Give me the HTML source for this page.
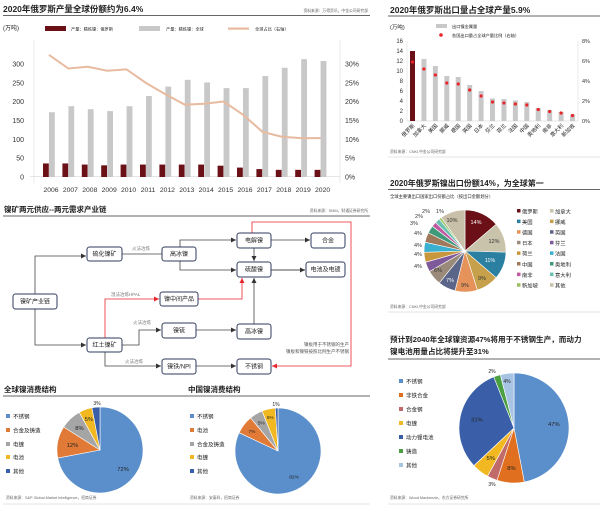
<!DOCTYPE html>
<html><head><meta charset="utf-8"><style>
html,body{margin:0;padding:0;background:#fff;width:600px;height:514px;overflow:hidden}
svg{display:block;font-family:"Liberation Sans","Noto Sans CJK SC",sans-serif}
</style></head><body>
<svg id="s" width="600" height="514" viewBox="0 0 600 514" xmlns="http://www.w3.org/2000/svg">
<defs>
<marker id="ak" markerWidth="6" markerHeight="6" refX="5" refY="3" orient="auto" markerUnits="userSpaceOnUse"><path d="M0,0.5 L5,3 L0,5.5z" fill="#333"/></marker>
<marker id="ar" markerWidth="6" markerHeight="6" refX="5" refY="3" orient="auto" markerUnits="userSpaceOnUse"><path d="M0,0.5 L5,3 L0,5.5z" fill="#e8262b"/></marker>
</defs>
<g id="g"></g>
</svg>
<script>
var G=document.getElementById('g'),NS='http://www.w3.org/2000/svg';
function el(t,a,txt){var e=document.createElementNS(NS,t);for(var k in a)e.setAttribute(k,a[k]);if(txt!==undefined)e.textContent=txt;G.appendChild(e);return e;}
function tx(x,y,s,sz,o){o=o||{};var a={x:x,y:y,'font-size':sz,fill:o.fill||'#222'};if(o.b)a['font-weight']='bold';if(o.a)a['text-anchor']=o.a;if(o.tr)a.transform=o.tr;return el('text',a,s);}
function ln(x1,y1,x2,y2,c,w,m){var a={x1:x1,y1:y1,x2:x2,y2:y2,stroke:c,'stroke-width':w||1};if(m)a['marker-end']='url(#'+m+')';return el('line',a);}
function pl(pts,c,w,m){var a={points:pts,fill:'none',stroke:c,'stroke-width':w||1};if(m)a['marker-end']='url(#'+m+')';return el('polyline',a);}
function rc(x,y,w,h,f){return el('rect',{x:x,y:y,width:w,height:h,fill:f});}
function pie(cx,cy,r,v,c,labs,lr,lc,fs){var t=0;v.forEach(function(x){t+=x});var a=-Math.PI/2;
 v.forEach(function(x,i){var b=a+x/t*2*Math.PI;var x1=cx+r*Math.cos(a),y1=cy+r*Math.sin(a),x2=cx+r*Math.cos(b),y2=cy+r*Math.sin(b);
 el('path',{d:'M'+cx+','+cy+' L'+x1+','+y1+' A'+r+','+r+' 0 '+((b-a)>Math.PI?1:0)+' 1 '+x2+','+y2+'Z',fill:c[i],stroke:'#fff','stroke-width':0.6});
 if(labs&&labs[i]){var m=(a+b)/2,rr=lr[i]||r*0.7;tx(cx+rr*Math.cos(m),cy+rr*Math.sin(m)+2,labs[i],fs||5.5,{a:'middle',fill:lc[i]||'#222'});}
 a=b;});}

/* Panel 1 */
tx(3,12,'2020年俄罗斯产量全球份额约为6.4%',8.5,{b:1});
tx(368,12,'资料来源：万得资讯，中金公司研究部',3.8,{a:'end',fill:'#666'});
ln(3,15.5,370,15.5,'#333',0.8);
tx(3,30,'(万吨)',6);
rc(45,26,21,5,'#6b1016');tx(71,30.5,'产量：精炼镍：俄罗斯',4.2);
rc(139,26,21,5,'#c8c8c8');tx(166,30.5,'产量：精炼镍：全球',4.2);
rc(228,27.5,21,2.2,'#e8bba0');tx(255,30.5,'全球占比（右轴）',4.2);
ln(34,40,34,183,'#ddd',0.6);ln(340,40,340,183,'#ddd',0.6);
ln(30,176.5,340,176.5,'#ccc',0.6);
for(var i=0;i<=6;i++){var y=177-i*18.83;tx(24,y+2.5,String(i*50),7,{a:'end',fill:'#333'});tx(345,y+2.5,(i*5)+'%',7,{fill:'#333'});}
var gv=[172,188,180,175,188,215,240,258,251,236,236,268,290,313,308],dv=[36,36,33,31,33,33,33,33,33,30,25,21,19,19,19],lv=[27,24,24.4,23.5,23.8,20.8,18.3,16,16.2,16.7,13.8,10,8.9,8.6,8.6];
var pts=[];
for(var i=0;i<15;i++){var x0=43+i*19.4;rc(x0,177-dv[i]*0.3766,5.8,dv[i]*0.3766,'#6b1016');rc(x0+6,177-gv[i]*0.3766,5.8,gv[i]*0.3766,'#c8c8c8');
 pts.push((x0+6)+','+(177-lv[i]*4.52));tx(x0+8,192,String(2006+i),6.8,{a:'middle',fill:'#333'});}
pl(pts.join(' '),'#e8bba0',2);

/* Panel 2 */
tx(390,13,'2020年俄罗斯出口量占全球产量5.9%',8.5,{b:1});
ln(388,16,600,16,'#333',0.8);
tx(390,29,'(万吨)',5.5);
rc(436,24,11,4,'#c8c8c8');tx(452,28,'出口镍金属量',4.2);
el('circle',{cx:441,cy:35,r:1.8,fill:'#e8262b'});tx(452,37,'各国出口量占全球产量比例（右轴）',4.2);
ln(407,41,407,121,'#ddd',0.6);ln(578,41,578,121,'#ddd',0.6);ln(407,121,578,121,'#ccc',0.6);
for(var i=0;i<=8;i++){var y=121-i*10;tx(403,y+2.2,String(i*2),6,{a:'end',fill:'#333'});if(i%2==0)tx(582,y+2.2,(i)+'%',5.5,{fill:'#333'});}
var ev=[14,12.4,11,9,8.8,7.2,6,4.5,4.4,4.1,3.8,2.6,2.2,1.8,1.3],pv=[5.9,5.2,4.6,3.8,3.7,3.1,2.5,1.9,1.8,1.7,1.6,1.15,0.95,0.8,0.55];
var cn=['俄罗斯','加拿大','美国','挪威','德国','英国','日本','芬兰','荷兰','法国','中国','奥地利','南非','意大利','新加坡'];
for(var i=0;i<15;i++){var x=410+i*11.43;rc(x,121-ev[i]*5,5,ev[i]*5,i?'#c8c8c8':'#6b1016');el('circle',{cx:x+2.5,cy:121-pv[i]*10,r:1.6,fill:'#e8262b'});
 tx(x+5,126,cn[i],5.3,{a:'end',tr:'rotate(-45 '+(x+5)+' 126)'});}
tx(390,153,'资料来源：CNKI,中金公司研究部',3.8,{fill:'#666'});
ln(388,157,600,157,'#ddd',0.8);

/* Panel 3 flowchart */
tx(4,212,'镍矿两元供应--两元需求产业链',7.5,{b:1});
tx(368,212,'资料来源：SMM，财通证券研究所',3.8,{a:'end',fill:'#666'});
ln(3,216,370,216,'#333',0.8);
function bx(x1,x2,y1,y2,s){el('rect',{x:x1,y:y1,width:x2-x1,height:y2-y1,rx:2.5,fill:'#fff',stroke:'#2f3b5c','stroke-width':1});tx((x1+x2)/2,(y1+y2)/2+2.2,s,6,{a:'middle'});}
var K='#444',R='#e8262b';
pl('35,294 35,256 86,256',K,0.8,'ak');
pl('35,309 35,345 86,345',K,0.8,'ak');
ln(122,254,162,254,K,0.8);tx(141,250,'火法冶炼',4.5,{a:'middle',fill:'#777'});
pl('180,247 180,240 236,240',K,0.8,'ak');
pl('180,261 180,270 236,270',K,0.8,'ak');
ln(271,240,310,240,K,0.8,'ak');
ln(254,248,254,261,K,0.8,'ak');
ln(271,270,305,270,'#888',1.5,'ak');
pl('105,338 105,299 159,299',R,0.8,'ar');tx(111,296,'湿法冶炼HPAL',4.5,{fill:'#777'});
pl('198,299 242,299 242,278',R,0.8,'ar');
pl('122,345 139,345 139,330 161,330',K,0.8,'ak');tx(133,324,'火法冶炼',4.5,{fill:'#777'});
ln(196,330,236,330,K,0.8,'ak');
ln(254,324,254,278,K,0.8,'ak');
pl('105,352 105,366 161,366',K,0.8,'ak');tx(125,363,'火法冶炼',4.5,{fill:'#777'});
ln(196,366,236,366,K,0.8,'ak');
pl('252,233 252,222 351,222 351,366 272,366',R,0.8,'ar');
tx(349,346,'镍板用于不锈钢的生产',4.5,{a:'end',fill:'#555'});
tx(349,353,'镍板和镍铁按照比例生产不锈钢',4.5,{a:'end',fill:'#555'});
bx(13,57,294,309,'镍矿产业链');bx(87,122,247,261,'硫化镍矿');bx(162,196,247,261,'高冰镍');
bx(237,271,233,248,'电解镍');bx(311,345,233,248,'合金');bx(237,271,262,277,'硫酸镍');bx(306,345,262,277,'电池及电镀');
bx(160,198,292,306,'镍中间产品');bx(162,196,323,338,'镍锍');bx(237,271,324,339,'高冰镍');bx(87,122,338,352,'红土镍矿');
bx(162,196,359,374,'镍铁/NPI');bx(237,271,359,374,'不锈钢');

/* Panel 4 */
tx(390,186,'2020年俄罗斯镍出口份额14%，为全球第一',8,{b:1});
ln(388,189.5,600,189.5,'#333',0.8);
tx(390,198,'全球主要镍出口国家出口份额占比（按出口金额划分）',4.3);
var c4=['#6b1016','#c9c3ab','#2b7fa0','#c6a04a','#e5935a','#5b6489','#9a8a79','#7f5a9a','#c8963d','#3ab0d0','#a0785a','#3f9a7a','#c05aa0','#6ac0b0','#9ac060','#c8c0a8'];
var v4=[14,12,11,9,9,7,6,4,4,4,4,3,2,2,1,10];
var l4=['14%','12%','11%','9%','9%','7%','6%','4%','4%','4%','4%','3%','2%','2%','1%','10%'];
pie(465,251,41,v4,c4,null);
var lp=[[476,224,'#fff'],[494,243,'#333'],[490,262,'#fff'],[482,280,'#333'],[465,287,'#333'],[450,282,'#fff'],[438,272,'#333'],[418,268,'#333'],[418,256,'#333'],[418,247,'#333'],[418,235,'#333'],[414,225,'#333'],[419,218,'#333'],[426,213,'#333'],[440,213,'#333'],[452,222,'#333']];
lp.forEach(function(p,i){tx(p[0],p[1],l4[i],5.5,{a:'middle',fill:p[2]});});
var n4=['俄罗斯','加拿大','美国','挪威','德国','英国','日本','芬兰','荷兰','法国','中国','奥地利','南非','意大利','新加坡','其他'];
for(var i=0;i<16;i++){var col=i%2,row=Math.floor(i/2);var x=517+col*33,y=212+row*10.6;rc(x,y-3,3.5,3.5,c4[i]);tx(x+5,y+1.3,n4[i],5.3);}
tx(390,308,'资料来源：CNKI,中金公司研究部',3.8,{fill:'#666'});
ln(388,312,600,312,'#ddd',0.8);

/* Panel 5 & 6 */
tx(4,392,'全球镍消费结构',7.5,{b:1});tx(188,392,'中国镍消费结构',7.5,{b:1});
ln(3,396,370,396,'#333',0.8);
var c5=['#5b8fcb','#e07a36','#a5a5a5','#f2b821','#3a5fa8'];
var n5=['不锈钢','合金及铸造','电镀','电池','其他'],n6=['不锈钢','电池','合金及铸造','电镀','其他'];
var ry=[417,431,445,458,472];
for(var i=0;i<5;i++){rc(6,ry[i]-3,4,4,c5[i]);tx(13,ry[i]+1.5,n5[i],5.5);rc(190,ry[i]-3,4,4,c5[i]);tx(197,ry[i]+1.5,n6[i],5.5);}
pie(100,450,43,[72,12,8,5,3],c5,['72%','12%','8%','5%',''],[30,28,30,33,0],['#222','#222','#222','#222'],5.8);
tx(97,405,'3%',5,{a:'middle'});
pie(278,451,43,[82,7,5,5,1],c5,['82%','7%','5%','5%',''],[30,33,33,35,0],['#222','#222','#222','#222'],4.8);
tx(276,406,'1%',5,{a:'middle'});
tx(6,499,'资料来源：S&P Global Market Intelligence，招商证券',3.8,{fill:'#666'});
tx(190,499,'资料来源：安泰科，招商证券',3.8,{fill:'#666'});
ln(3,504,370,504,'#ddd',0.8);

/* Panel 7 */
tx(390,342,'预计到2040年全球镍资源47%将用于不锈钢生产，而动力',7.6,{b:1});
tx(390,354,'镍电池用量占比将提升至31%',7.6,{b:1});
ln(388,359,600,359,'#333',0.8);
var c7=['#5b8fcb','#e07020','#c06a6a','#f2b821','#3a5fa8','#4aa040','#a8c4e4'];
var n7=['不锈钢','非铁合金','合金钢','电镀','动力锂电池','铸造','其他'];
for(var i=0;i<7;i++){var y=382+i*14;rc(399,y-3,4,4,c7[i]);tx(406,y+1.5,n7[i],5.5);}
pie(514,428,55,[47,8,3,5,31,2,4],c7,['47%','8%','','5%','31%','',''],[40,40,0,38,38,0,0],['#222','#222','','#222','#222'],5.8);
tx(492,486,'3%',5,{a:'middle'});tx(492,373,'2%',5,{a:'middle'});tx(507,383,'4%',5,{a:'middle'});
tx(390,499,'资料来源：Wood Mackenzie，东方证券研究所',3.8,{fill:'#666'});
ln(388,504,600,504,'#ddd',0.8);
</script>
</body></html>
